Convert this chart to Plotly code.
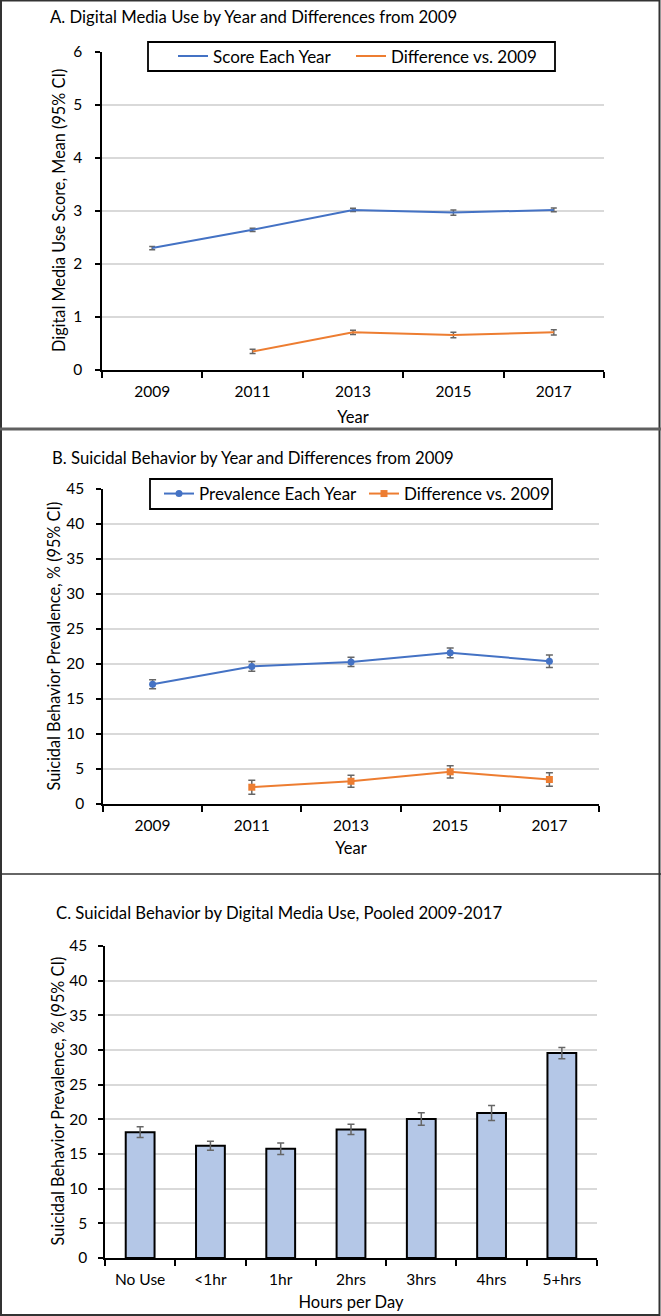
import plotly.graph_objects as go

W, H = 661, 1316
FONT = "Lato"

years = ["2009", "2011", "2013", "2015", "2017"]
diff_years = ["2011", "2013", "2015", "2017"]

# Panel A
score = [2.30, 2.645, 3.02, 2.97, 3.02]
score_err = [0.03, 0.03, 0.03, 0.05, 0.035]
score_diff = [0.35, 0.71, 0.66, 0.71]
score_diff_err = [0.04, 0.04, 0.05, 0.05]

# Panel B
prev = [17.1, 19.65, 20.3, 21.6, 20.4]
prev_err = [0.65, 0.7, 0.65, 0.7, 0.9]
prev_diff = [2.4, 3.25, 4.6, 3.5]
prev_diff_err = [1.0, 0.86, 0.88, 0.98]

# Panel C
hours = ["No Use", "<1hr", "1hr", "2hrs", "3hrs", "4hrs", "5+hrs"]
hours_prev = [18.15, 16.2, 15.75, 18.55, 20.05, 20.9, 29.55]
hours_err = [0.77, 0.65, 0.82, 0.75, 0.9, 1.08, 0.8]

BLUE = "#4472C4"
ORANGE = "#ED7D31"
ERR = "#666666"
GRID = "#D9D9D9"


def fx(x):
    return x / W


def fy(y):
    return 1 - y / H


fig = go.Figure()

# ---- Panel A traces
fig.add_trace(go.Scatter(x=years, y=score, mode="lines", name="Score Each Year",
                         line=dict(color=BLUE, width=2),
                         error_y=dict(type="data", array=score_err, color=ERR, thickness=1.5, width=3),
                         xaxis="x", yaxis="y", legend="legend"))
fig.add_trace(go.Scatter(x=diff_years, y=score_diff, mode="lines", name="Difference vs. 2009",
                         line=dict(color=ORANGE, width=2),
                         error_y=dict(type="data", array=score_diff_err, color=ERR, thickness=1.5, width=3),
                         xaxis="x", yaxis="y", legend="legend2"))

# ---- Panel B traces
fig.add_trace(go.Scatter(x=years, y=prev, mode="lines+markers", name="Prevalence Each Year",
                         line=dict(color=BLUE, width=2), marker=dict(symbol="circle", size=7, color=BLUE),
                         error_y=dict(type="data", array=prev_err, color=ERR, thickness=1.5, width=3.5),
                         xaxis="x2", yaxis="y2", legend="legend3"))
fig.add_trace(go.Scatter(x=diff_years, y=prev_diff, mode="lines+markers", name="Difference vs. 2009",
                         line=dict(color=ORANGE, width=2), marker=dict(symbol="square", size=7, color=ORANGE),
                         error_y=dict(type="data", array=prev_diff_err, color=ERR, thickness=1.5, width=3.5),
                         xaxis="x2", yaxis="y2", legend="legend4"))

# ---- Panel C bars
fig.add_trace(go.Bar(x=hours, y=hours_prev, marker=dict(color="#B4C7E7", line=dict(color="black", width=2)),
                     error_y=dict(type="data", array=hours_err, color=ERR, thickness=1.5, width=3.5),
                     showlegend=False, xaxis="x3", yaxis="y3"))

tickfont = dict(family=FONT, size=15.5, color="black")
xtitlefont = dict(family=FONT, size=16.5, color="black")
ytitlefont = dict(family=FONT, size=16.3, color="black")


def xaxis(dom, anchor, title, ncat, standoff):
    return dict(domain=[fx(dom[0]), fx(dom[1])], anchor=anchor, type="category",
                range=[-0.5, ncat - 0.5],
                showline=True, linecolor="black", linewidth=1.5, ticks="outside", ticklen=6,
                tickwidth=1.5, tickcolor="black", tickson="boundaries", showgrid=False,
                tickfont=tickfont, automargin=False, ticklabelstandoff=7,
                title=dict(text=title, font=xtitlefont, standoff=standoff))


def yaxis(dom, anchor, rng, dtick, lblstand):
    return dict(domain=[fy(dom[1]), fy(dom[0])], anchor=anchor, range=rng, dtick=dtick,
                showline=True, linecolor="black", linewidth=1.5, ticks="outside", ticklen=5,
                tickwidth=1.5, tickcolor="black", showgrid=True, gridcolor=GRID, gridwidth=1.5,
                zeroline=False, tickfont=tickfont, automargin=False, ticklabelstandoff=lblstand)


legfont = dict(family=FONT, size=17, color="black")


def legend(xpx, ypx):
    return dict(orientation="h", x=fx(xpx), y=fy(ypx), xanchor="left", yanchor="middle",
                bgcolor="rgba(0,0,0,0)", borderwidth=0, font=legfont)


fig.update_layout(
    width=W, height=H, margin=dict(l=0, r=0, t=0, b=0, autoexpand=False),
    paper_bgcolor="white", plot_bgcolor="white",
    font=dict(family=FONT, color="black"),
    xaxis=xaxis((102, 604), "y", "Year", len(years), 12),
    yaxis=yaxis((52, 370), "x", [0, 6], 1, 10),
    xaxis2=xaxis((103, 599), "y2", "Year", len(years), 9),
    yaxis2=yaxis((489, 804), "x2", [0, 45], 5, 9),
    xaxis3=xaxis((105, 597), "y3", "Hours per Day", len(hours), 9),
    yaxis3=yaxis((946, 1258), "x3", [0, 45], 5, 8),
    bargap=0.59,
    legend=legend(173, 56.5),
    legend2=legend(351, 56.5),
    legend3=legend(159, 494),
    legend4=legend(364, 494),
    showlegend=True,
)

ann = [
    ("A. Digital Media Use by Year and Differences from 2009", 48, 17),
    ("B. Suicidal Behavior by Year and Differences from 2009", 50, 458),
    ("C. Suicidal Behavior by Digital Media Use, Pooled 2009-2017", 54, 913),
]
for text, x, y in ann:
    fig.add_annotation(text=text, x=fx(x), y=fy(y), xref="paper", yref="paper",
                       xanchor="left", yanchor="middle", showarrow=False,
                       font=dict(family=FONT, size=16.7, color="black"))

ytitles = [
    ("Digital Media Use Score, Mean (95% CI)", 59, 211),
    ("Suicidal Behavior Prevalence, % (95% CI)", 53, 646.5),
    ("Suicidal Behavior Prevalence, % (95% CI)", 57, 1101.5),
]
for text, x, y in ytitles:
    fig.add_annotation(text=text, x=fx(x), y=fy(y), xref="paper", yref="paper",
                       xanchor="center", yanchor="middle", showarrow=False, textangle=-90,
                       font=ytitlefont)

shapes = [
    # legend boxes
    dict(type="rect", xref="paper", yref="paper", x0=fx(148), x1=fx(555), y0=fy(71), y1=fy(42),
         line=dict(color="black", width=1.8), fillcolor="white", layer="above"),
    dict(type="rect", xref="paper", yref="paper", x0=fx(150), x1=fx(552), y0=fy(509), y1=fy(479),
         line=dict(color="black", width=1.8), fillcolor="white", layer="above"),
    # panel frame
    dict(type="rect", xref="paper", yref="paper", x0=fx(1), x1=fx(659.5), y0=fy(1315), y1=fy(0.5),
         line=dict(color="#333333", width=2)),
    dict(type="line", xref="paper", yref="paper", x0=0, x1=1, y0=fy(429), y1=fy(429),
         line=dict(color="#606060", width=3)),
    dict(type="line", xref="paper", yref="paper", x0=0, x1=1, y0=fy(874), y1=fy(874),
         line=dict(color="#333333", width=1.5)),
]
fig.update_layout(shapes=shapes)

fig.write_html("out.html", config={"displayModeBar": False},
               post_script="document.body.style.margin='0px';")
